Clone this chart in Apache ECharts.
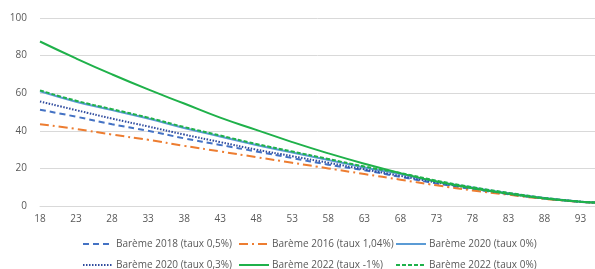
<!DOCTYPE html>
<html>
<head>
<meta charset="utf-8">
<script src="https://cdn.jsdelivr.net/npm/echarts@6/dist/echarts.min.js"></script>
<style>
  html, body { margin: 0; padding: 0; background: #fff; }
  #chart { width: 595px; height: 269px; }
</style>
</head>
<body>
<div id="chart"></div>
<script>
// ages (x) and values
var ages = [18, 23, 28, 33, 38, 43, 48, 53, 58, 63, 68, 73, 78, 83, 88, 93, 95];

var bareme2018 = [51.2, 47.5, 43.5, 40, 36, 32.5, 29, 25.5, 22, 19, 15.5, 12, 9, 6.3, 4, 2.2, 1.8];
var bareme2016 = [43.5, 41, 38, 35.2, 32, 29, 26, 23, 20, 17, 14, 11, 8.3, 6, 3.8, 2.2, 1.8];
var bareme2020_0 = [61, 55.5, 51, 46.5, 41.5, 37, 32.5, 28.5, 24.5, 20.5, 17, 13, 9.8, 6.8, 4.2, 2.3, 1.8];
var bareme2020_03 = [55.6, 51, 46.5, 42.3, 38, 34, 30, 26.5, 23, 19.5, 16, 12.5, 9.5, 6.5, 4.1, 2.3, 1.8];
var bareme2022_m1 = [87.5, 78.5, 70, 62, 54.5, 47, 40.5, 34, 28, 22.5, 17.5, 13, 9.5, 6.5, 4, 2.3, 1.8];
var bareme2022_0 = [61.5, 56, 51.5, 47, 42, 37.5, 33, 29, 25, 21, 17.5, 13.5, 10, 7, 4.3, 2.3, 1.8];

var names = [
    'Barème 2018 (taux 0,5%)',
    'Barème 2016 (taux 1,04%)',
    'Barème 2020 (taux 0%)',
    'Barème 2020 (taux 0,3%)',
    'Barème 2022 (taux -1%)',
    'Barème 2022 (taux 0%)'
];

function pairs(values) {
    return ages.map(function (a, i) { return [a, values[i]]; });
}

function line(name, values, color, type) {
    return {
        name: name,
        type: 'line',
        smooth: true,
        symbol: 'none',
        data: pairs(values),
        lineStyle: { color: color, width: 2, type: type },
        itemStyle: { color: color }
    };
}

var textColor = '#595959';
var font = 'Open Sans';

// one legend per item so the 3x2 layout lands where the original puts it
var legendPos = [
    [77, 234], [233, 234], [390, 234],
    [77, 255], [233, 255], [390, 255]
];
var legends = names.map(function (n, i) {
    return {
        data: [n],
        left: legendPos[i][0],
        top: legendPos[i][1],
        itemWidth: 30,
        itemHeight: 10,
        itemGap: 0,
        itemStyle: { opacity: 0 },
        textStyle: { color: textColor, fontSize: 10, fontFamily: font, padding: [0, 0, 0, -2] }
    };
});

var chart = echarts.init(document.getElementById('chart'));
chart.setOption({
    animation: false,
    grid: { left: 40, right: 0, top: 18, bottom: 63, containLabel: false },
    legend: legends,
    xAxis: {
        type: 'value',
        min: 18,
        max: 95,
        interval: 5,
        axisLine: { show: true, lineStyle: { color: '#d9d9d9' } },
        axisTick: { show: false },
        splitLine: { show: false },
        axisLabel: { color: textColor, fontSize: 10, fontFamily: font, margin: 8, showMaxLabel: false }
    },
    yAxis: {
        type: 'value',
        min: 0,
        max: 100,
        interval: 20,
        axisLine: { show: false },
        axisTick: { show: false },
        splitLine: { lineStyle: { color: '#d9d9d9', width: 1 } },
        axisLabel: { color: textColor, fontSize: 10, fontFamily: font, margin: 13 }
    },
    series: [
        line(names[0], bareme2018, '#4472C4', [6, 4]),
        line(names[1], bareme2016, '#ED7D31', [9, 4, 2, 4]),
        line(names[2], bareme2020_0, '#5B9BD5', 'solid'),
        line(names[3], bareme2020_03, '#2F4B9E', [1.5, 1.5]),
        line(names[4], bareme2022_m1, '#1FB14A', 'solid'),
        line(names[5], bareme2022_0, '#1FB14A', [4, 2])
    ]
});
</script>
</body>
</html>
